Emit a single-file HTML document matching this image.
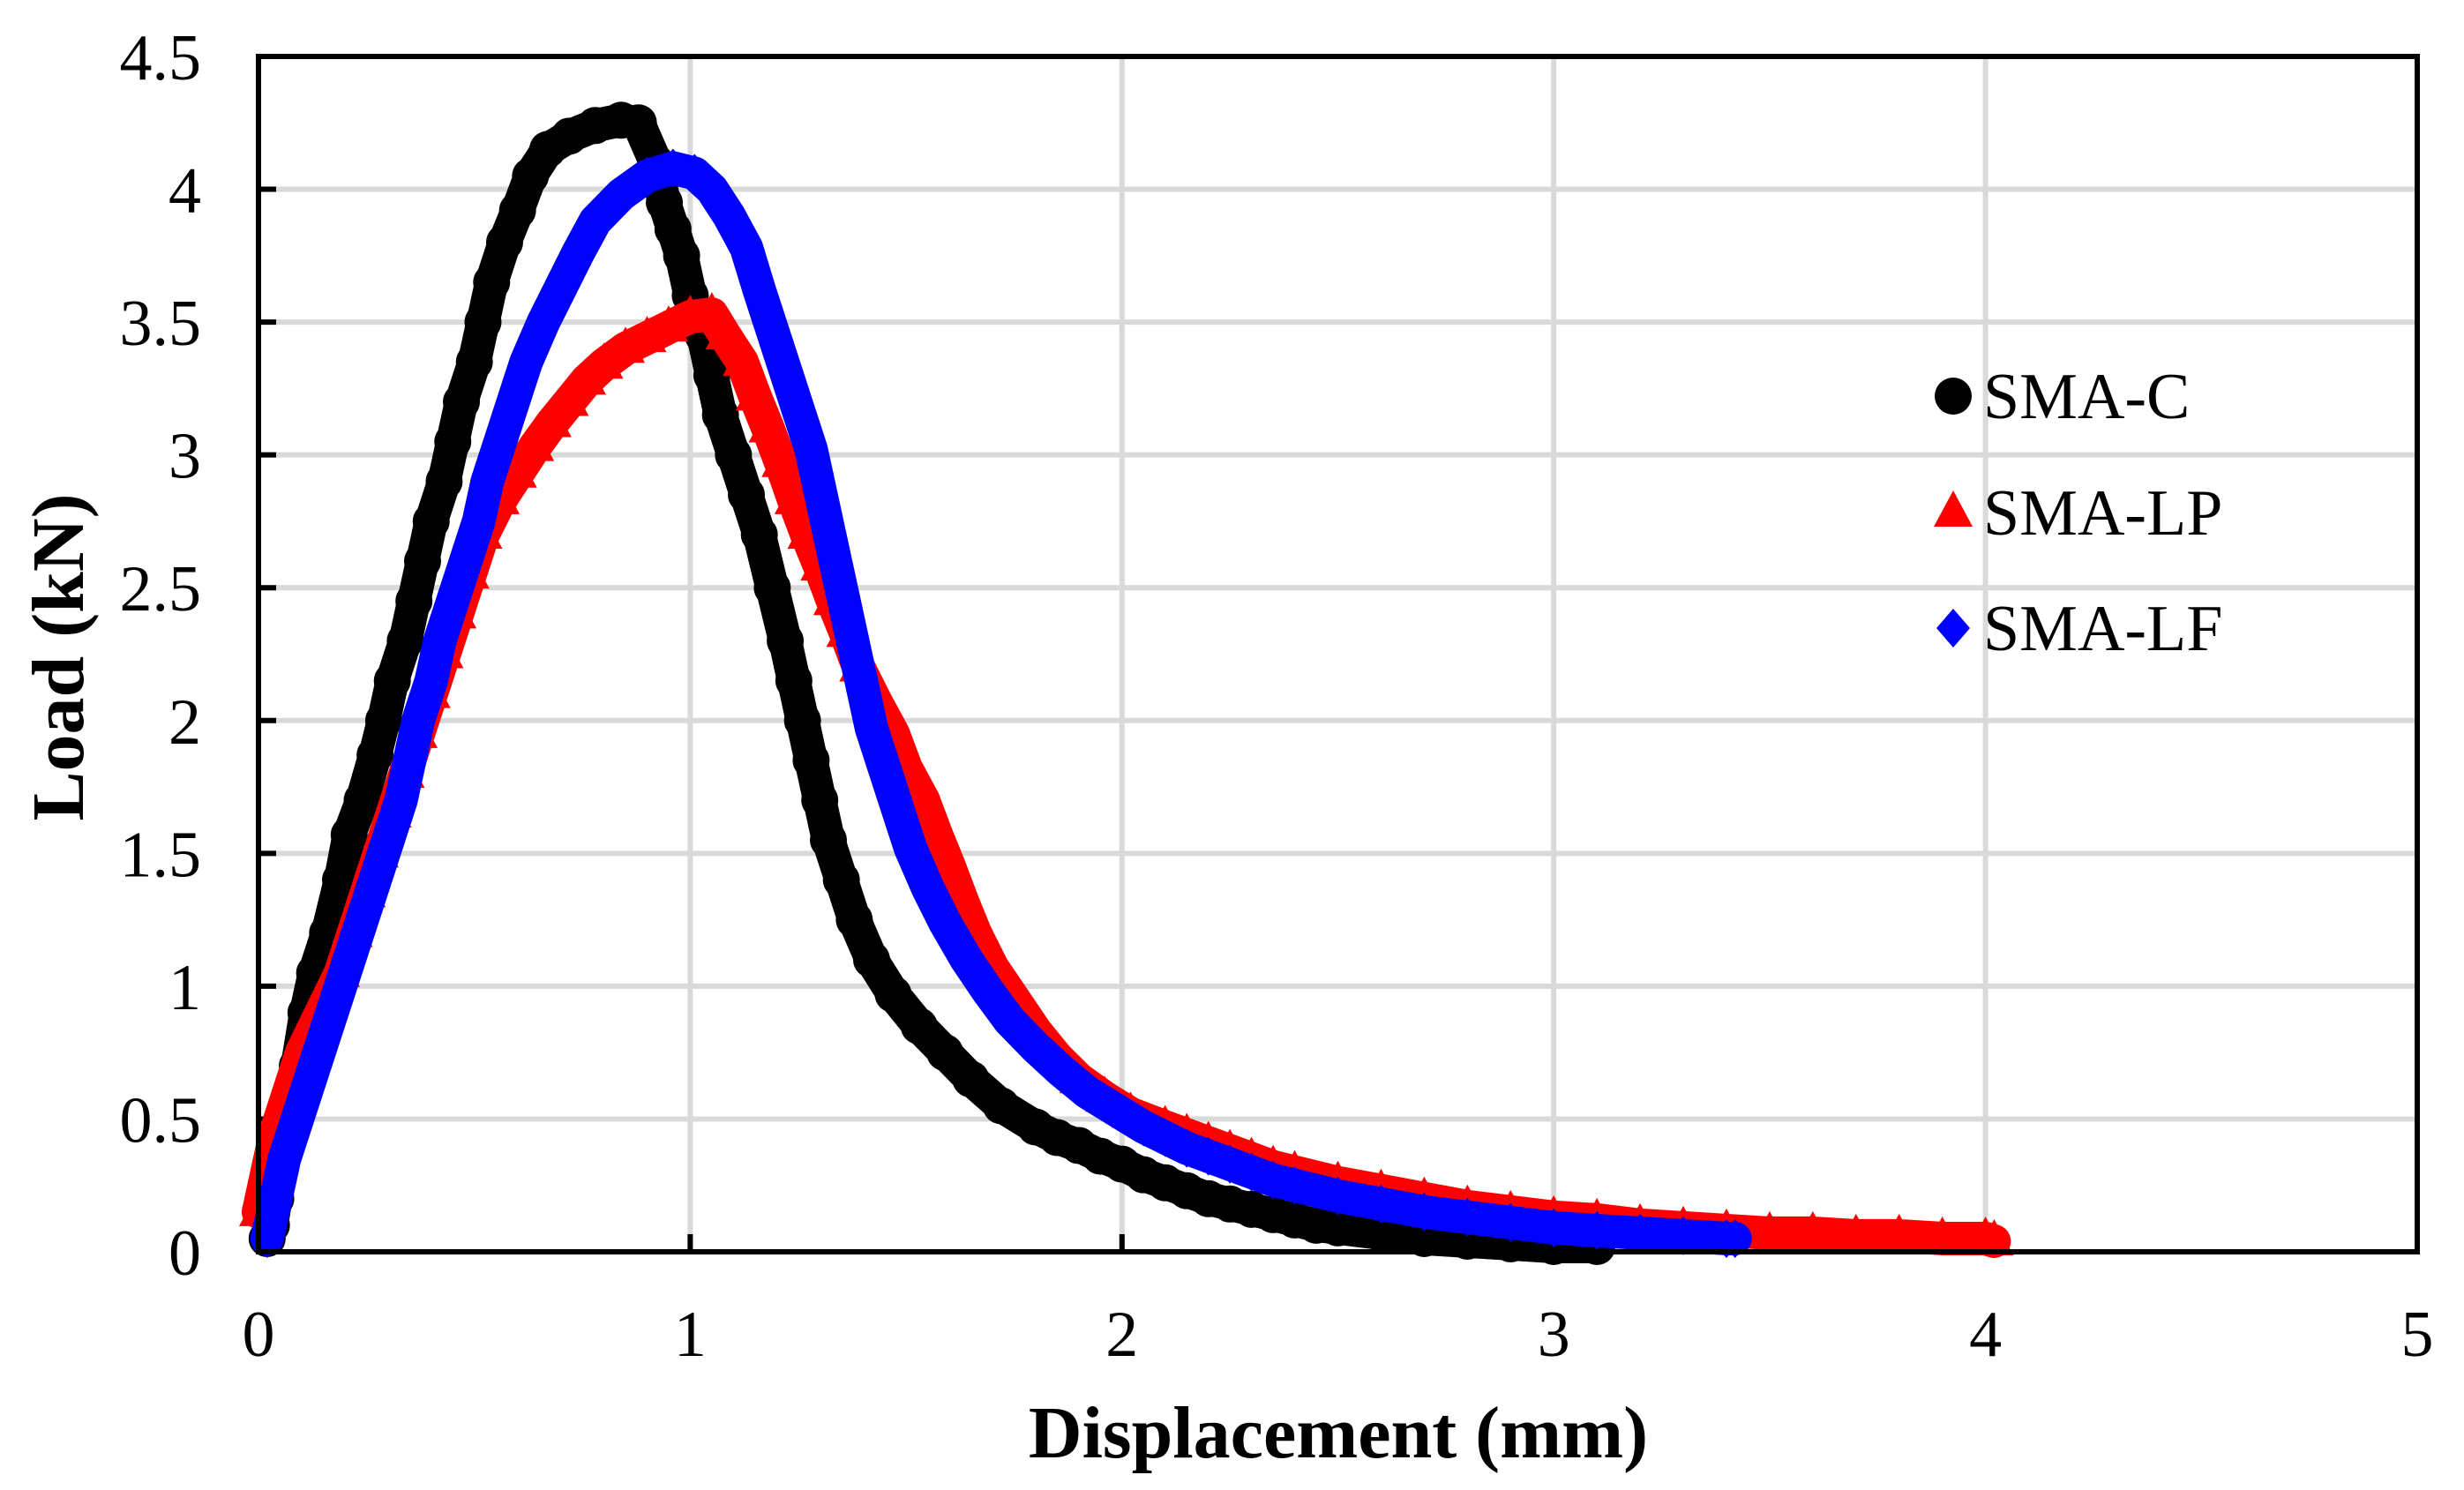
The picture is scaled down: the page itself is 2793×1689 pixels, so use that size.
<!DOCTYPE html>
<html><head><meta charset="utf-8"><style>
html,body{margin:0;padding:0;background:#fff;}
svg{display:block;}
text{font-family:"Liberation Serif",serif;}
</style></head><body>
<svg id="chart" width="2793" height="1689" viewBox="0 0 2793 1689" xmlns="http://www.w3.org/2000/svg">
<g id="grid"></g>
<g id="series"></g>
<rect x="293" y="64" width="2447" height="1355" fill="none" stroke="#000" stroke-width="6"/>
<g id="ticks"></g>
<text x="1517" y="1652" font-size="84" font-weight="bold" text-anchor="middle">Displacement (mm)</text>
<text transform="translate(94,745) rotate(-90)" font-size="84" font-weight="bold" text-anchor="middle">Load (kN)</text>
<g id="legend"></g>
</svg>
<script>
const xTicks=[0,1,2,3,4,5];
const yTicks=[0,0.5,1,1.5,2,2.5,3,3.5,4,4.5];
const yTickLabels=["0","0.5","1","1.5","2","2.5","3","3.5","4","4.5"];
const seriesNames=["SMA-C","SMA-LP","SMA-LF"];
const cX=[0.02,0.03,0.04,0.05,0.07,0.09,0.11,0.13,0.16,0.19,0.21,0.24,0.27,0.29,0.31,0.34,0.36,0.38,0.40,0.43,0.45,0.47,0.50,0.52,0.54,0.57,0.60,0.63,0.67,0.72,0.78,0.84,0.88,0.92,0.94,0.96,0.98,1.00,1.03,1.05,1.07,1.10,1.13,1.16,1.19,1.22,1.24,1.26,1.28,1.30,1.32,1.35,1.38,1.42,1.47,1.53,1.59,1.65,1.72,1.80,1.85,1.90,1.95,2.0,2.05,2.1,2.15,2.2,2.25,2.3,2.35,2.4,2.45,2.5,2.6,2.7,2.8,2.9,3.0,3.1];
const cY=[0.05,0.1,0.2,0.35,0.5,0.7,0.9,1.05,1.2,1.4,1.57,1.7,1.87,2.0,2.15,2.3,2.45,2.6,2.75,2.9,3.05,3.2,3.35,3.5,3.65,3.8,3.92,4.05,4.15,4.2,4.24,4.26,4.25,4.1,3.95,3.85,3.75,3.6,3.45,3.3,3.15,3.0,2.85,2.7,2.5,2.3,2.15,2.0,1.85,1.7,1.55,1.4,1.25,1.1,0.97,0.85,0.75,0.65,0.55,0.47,0.43,0.40,0.36,0.33,0.29,0.26,0.23,0.2,0.18,0.16,0.14,0.12,0.1,0.09,0.07,0.05,0.04,0.03,0.02,0.02];
const lpX=[0.0,0.02,0.04,0.07,0.1,0.13,0.16,0.19,0.22,0.25,0.28,0.31,0.34,0.37,0.40,0.43,0.46,0.49,0.52,0.56,0.60,0.64,0.68,0.72,0.76,0.80,0.85,0.90,0.95,1.0,1.05,1.08,1.12,1.15,1.18,1.21,1.24,1.27,1.30,1.33,1.36,1.39,1.43,1.47,1.50,1.54,1.57,1.60,1.63,1.66,1.70,1.75,1.80,1.85,1.90,1.96,2.02,2.1,2.15,2.2,2.25,2.3,2.35,2.4,2.5,2.6,2.7,2.8,2.9,3.0,3.1,3.2,3.3,3.4,3.5,3.6,3.7,3.8,3.9,4.0,4.02];
const lpY=[0.15,0.3,0.45,0.6,0.75,0.85,0.95,1.05,1.2,1.35,1.5,1.65,1.8,1.95,2.1,2.25,2.4,2.55,2.7,2.83,2.93,3.03,3.12,3.2,3.28,3.34,3.4,3.44,3.48,3.52,3.53,3.45,3.35,3.22,3.1,2.97,2.83,2.7,2.58,2.45,2.33,2.2,2.07,1.95,1.82,1.7,1.57,1.45,1.32,1.2,1.07,0.95,0.83,0.73,0.65,0.58,0.52,0.47,0.44,0.41,0.38,0.35,0.32,0.3,0.26,0.23,0.2,0.17,0.15,0.13,0.12,0.1,0.09,0.08,0.07,0.07,0.06,0.06,0.05,0.05,0.04];
const lfX=[0.02,0.04,0.06,0.09,0.12,0.15,0.18,0.21,0.24,0.27,0.30,0.33,0.35,0.37,0.40,0.42,0.45,0.48,0.51,0.53,0.56,0.59,0.62,0.66,0.70,0.74,0.78,0.84,0.90,0.96,1.01,1.05,1.09,1.13,1.16,1.19,1.22,1.25,1.28,1.30,1.32,1.34,1.36,1.38,1.40,1.42,1.45,1.48,1.51,1.55,1.59,1.64,1.69,1.74,1.80,1.86,1.92,2.0,2.05,2.1,2.15,2.2,2.25,2.3,2.35,2.4,2.5,2.6,2.7,2.8,2.9,3.0,3.1,3.2,3.3,3.4,3.42];
const lfY=[0.05,0.2,0.35,0.5,0.65,0.8,0.95,1.1,1.25,1.4,1.55,1.7,1.85,2.0,2.15,2.3,2.45,2.6,2.75,2.9,3.05,3.2,3.35,3.5,3.63,3.76,3.88,3.98,4.05,4.08,4.06,4.0,3.9,3.78,3.62,3.47,3.32,3.17,3.02,2.87,2.72,2.57,2.42,2.27,2.12,1.97,1.82,1.67,1.52,1.37,1.24,1.1,0.98,0.87,0.77,0.68,0.6,0.52,0.47,0.43,0.39,0.36,0.33,0.3,0.27,0.25,0.21,0.18,0.15,0.13,0.11,0.09,0.08,0.07,0.06,0.05,0.05];

const NS="http://www.w3.org/2000/svg";
const X0=293,X1=2740,Y0=1419,Y1=64;
const xs=v=>X0+(v-0)/5*(X1-X0);
const ys=v=>Y0-(v-0)/4.5*(Y0-Y1);
function mk(tag,attrs,parent){const e=document.createElementNS(NS,tag);for(const k in attrs)e.setAttribute(k,attrs[k]);parent.appendChild(e);return e;}
const grid=document.getElementById('grid'),ticks=document.getElementById('ticks'),ser=document.getElementById('series'),leg=document.getElementById('legend');
xTicks.forEach(t=>{
  if(t>0&&t<5){const l=mk('line',{x1:xs(t),x2:xs(t),y1:Y1,y2:Y0,stroke:'#d9d9d9','stroke-width':6},grid);
  
  
  const tk=mk('line',{x1:xs(t),x2:xs(t),y1:Y0-20,y2:Y0,stroke:'#000','stroke-width':6},grid);
  
  }
  const tx=mk('text',{x:xs(t),y:1537,'font-size':74,'text-anchor':'middle'},ticks);tx.textContent=String(t);
  
  
});
yTicks.forEach((t,i)=>{
  if(t>0&&t<4.5){const l=mk('line',{x1:X0,x2:X1,y1:ys(t),y2:ys(t),stroke:'#d9d9d9','stroke-width':6},grid);
  
  
  const tk=mk('line',{x1:X0,x2:X0+20,y1:ys(t),y2:ys(t),stroke:'#000','stroke-width':6},grid);
  
  }
  const tx=mk('text',{x:228,y:ys(t)+26,'font-size':74,'text-anchor':'end'},ticks);tx.textContent=yTickLabels[i];
  
  
});
const colors={circle:'#000',tri:'#ff0000',diamond:'#0000ff'};
function marker(kind,cx,cy,parent){
  let e;
  if(kind==='circle'){e=mk('circle',{cx:cx,cy:cy,r:21,fill:'#000'},parent);}
  else if(kind==='tri'){e=mk('polygon',{points:`${cx},${cy-25} ${cx+22},${cy+16} ${cx-22},${cy+16}`,fill:'#ff0000'},parent);}
  else {e=mk('polygon',{points:`${cx},${cy-22} ${cx+19},${cy} ${cx},${cy+22} ${cx-19},${cy}`,fill:'#0000ff'},parent);}
  return e;
}
const defs=[[cX,cY,'circle','sma-c'],[lpX,lpY,'tri','sma-lp'],[lfX,lfY,'diamond','sma-lf']];
defs.forEach(([X,Y,kind,nm])=>{
  const g=mk('g',{},ser);
  
  
  const pts=X.map((x,i)=>xs(x)+','+ys(Y[i])).join(' ');
  const pl=mk('polyline',{points:pts,fill:'none',stroke:colors[kind],'stroke-width':38,'stroke-linejoin':'round','stroke-linecap':'round'},g);
  
  
  X.forEach((x,i)=>{const m=marker(kind,xs(x),ys(Y[i]),g);
    
    });
});
const legY=[449,581,712];
defs.forEach(([X,Y,kind,nm],i)=>{
  const g=mk('g',{},leg);
  
  
  marker(kind,2214,legY[i],g);
  const t=mk('text',{x:2248,y:legY[i]+25,'font-size':74},g);t.textContent=seriesNames[i];
});
</script>
</body></html>
